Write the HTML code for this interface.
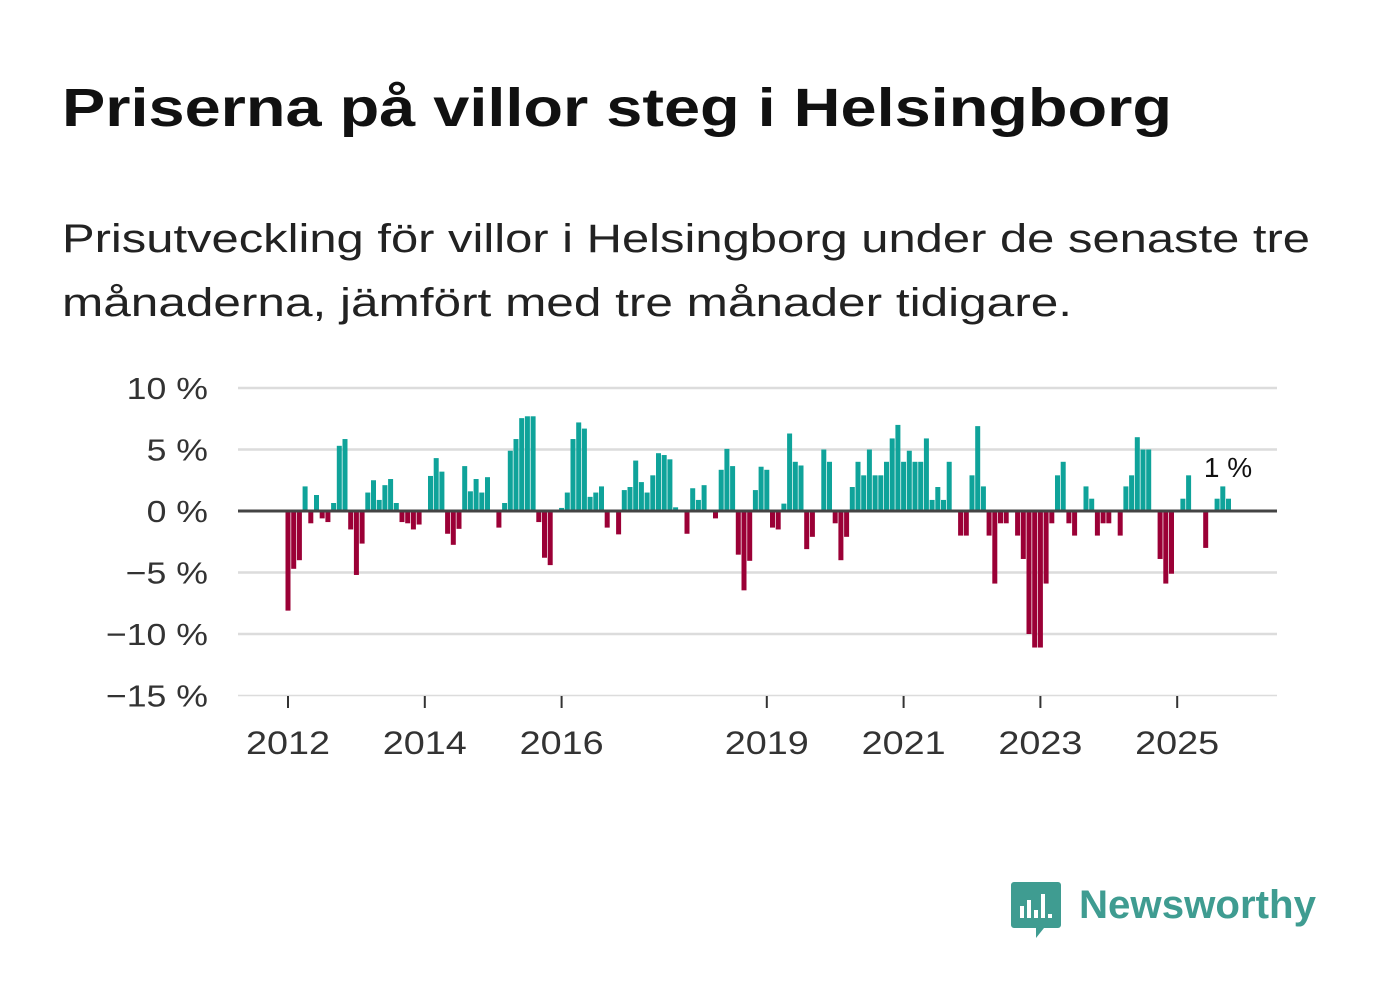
<!DOCTYPE html>
<html><head><meta charset="utf-8"><style>
body{margin:0;background:#fff;}
svg{display:block;font-family:"Liberation Sans",sans-serif;}
</style></head><body>
<svg id="chart" width="1382" height="999" viewBox="0 0 1382 999">
<text x="62" y="126" font-size="54" font-weight="bold" fill="#111" textLength="1110" lengthAdjust="spacingAndGlyphs">Priserna på villor steg i Helsingborg</text>
<text x="62" y="252" font-size="40" fill="#222" textLength="1248" lengthAdjust="spacingAndGlyphs">Prisutveckling för villor i Helsingborg under de senaste tre</text>
<text x="62" y="316" font-size="40" fill="#222" textLength="1010" lengthAdjust="spacingAndGlyphs">månaderna, jämfört med tre månader tidigare.</text>
<g id="grid"></g>
<g id="bars"></g>
<g id="xaxis"></g>
<text x="1228" y="477" font-size="28" fill="#111" text-anchor="middle" stroke="#fff" stroke-width="6" paint-order="stroke">1 %</text>
<g>
<path d="M1014 882 h44 a3 3 0 0 1 3 3 v40 a3 3 0 0 1 -3 3 h-14 l-8 10 v-10 h-22 a3 3 0 0 1 -3 -3 v-40 a3 3 0 0 1 3 -3z" fill="#3f9c91"/>
<rect x="1020" y="906" width="4" height="12" fill="#fff"/><rect x="1027" y="900" width="4" height="18" fill="#fff"/><rect x="1034" y="910" width="4" height="8" fill="#fff"/><rect x="1041" y="894" width="4" height="24" fill="#fff"/><rect x="1048" y="914" width="4" height="4" fill="#fff"/>
<text x="1079" y="918" font-size="40" font-weight="bold" fill="#3f9c91" textLength="237" lengthAdjust="spacingAndGlyphs">Newsworthy</text>
</g>
</svg>
<script>
const values = [-8.1,-4.7,-4.0,2.0,-1.0,1.3,-0.6,-0.9,0.65,5.3,5.85,-1.5,-5.2,-2.65,1.5,2.5,0.9,2.1,2.6,0.65,-0.9,-1.0,-1.5,-1.1,null,2.85,4.3,3.2,-1.85,-2.75,-1.45,3.65,1.6,2.6,1.5,2.75,null,-1.35,0.65,4.9,5.85,7.55,7.7,7.7,-0.9,-3.8,-4.4,null,0.25,1.5,5.85,7.2,6.7,1.15,1.5,2.0,-1.35,null,-1.9,1.7,1.95,4.1,2.35,1.5,2.9,4.7,4.55,4.2,0.3,null,-1.85,1.85,0.9,2.1,null,-0.6,3.35,5.05,3.65,-3.55,-6.45,-4.05,1.7,3.6,3.35,-1.35,-1.5,0.6,6.3,4.0,3.7,-3.1,-2.1,null,5.0,4.0,-1.0,-4.0,-2.1,1.95,4.0,2.9,5.0,2.9,2.9,4.0,5.9,7.0,4.0,4.9,4.0,4.0,5.9,0.9,1.95,0.9,4.0,null,-2.0,-2.0,2.9,6.9,2.0,-2.0,-5.9,-1.0,-1.0,null,-2.0,-3.9,-10.0,-11.1,-11.1,-5.9,-1.0,2.9,4.0,-1.0,-2.0,null,2.0,1.0,-2.0,-1.0,-1.0,null,-2.0,2.0,2.9,6.0,5.0,5.0,null,-3.9,-5.9,-5.1,null,1.0,2.9,null,null,-3.0,null,1.0,2.0,1.0];
const startYear = 2012;
const yTicks = [10,5,0,-5,-10,-15];
const yTickLabels = ["10 %","5 %","0 %","\u22125 %","\u221210 %","\u221215 %"];
const xTickYears = [2012,2014,2016,2019,2021,2023,2025];

const NS="http://www.w3.org/2000/svg";
const monthW = 68.4/12;
function xScale(i){ return 288 + i*monthW; }
function yScale(v){ return 511 - v*12.3; }
function mk(tag, attrs, parent){ const e=document.createElementNS(NS,tag); for(const k in attrs) e.setAttribute(k,attrs[k]); parent.appendChild(e); return e; }

const grid=document.getElementById('grid');
yTicks.forEach((t,k)=>{
  const l=mk('line',{x1:238,x2:1277,y1:yScale(t),y2:yScale(t),stroke:'#dcdcdc','stroke-width':t===-15?1.5:2.5},grid);
  
  
  const tx=mk('text',{x:208,y:yScale(t)+11,'font-size':31,fill:'#333','text-anchor':'end'},grid);
  tx.textContent=yTickLabels[k];
  
  
  const w=tx.getComputedTextLength();
  tx.setAttribute('textLength',(w*1.15).toFixed(1));
  tx.setAttribute('lengthAdjust','spacingAndGlyphs');
});
const bars=document.getElementById('bars');
values.forEach((v,i)=>{
  if(v===null) return;
  const y0=yScale(0), y1=yScale(v);
  const r=mk('rect',{x:xScale(i)-2.5,y:Math.min(y0,y1),width:5,height:Math.abs(y1-y0),fill:v>=0?'#0fa39a':'#9b0036'},bars);
  
  
});
const zl=mk('line',{x1:238,x2:1277,y1:yScale(0),y2:yScale(0),stroke:'#444','stroke-width':3},bars);


const xa=document.getElementById('xaxis');
xTickYears.forEach(yr=>{
  const x=xScale((yr-startYear)*12);
  const tk=mk('line',{x1:x,x2:x,y1:696,y2:708,stroke:'#333','stroke-width':2},xa);
  
  
  const tx=mk('text',{x:x,y:754,'font-size':32,fill:'#333','text-anchor':'middle',textLength:84,lengthAdjust:'spacingAndGlyphs'},xa);
  tx.textContent=String(yr);
  
  
});
</script>
</body></html>
